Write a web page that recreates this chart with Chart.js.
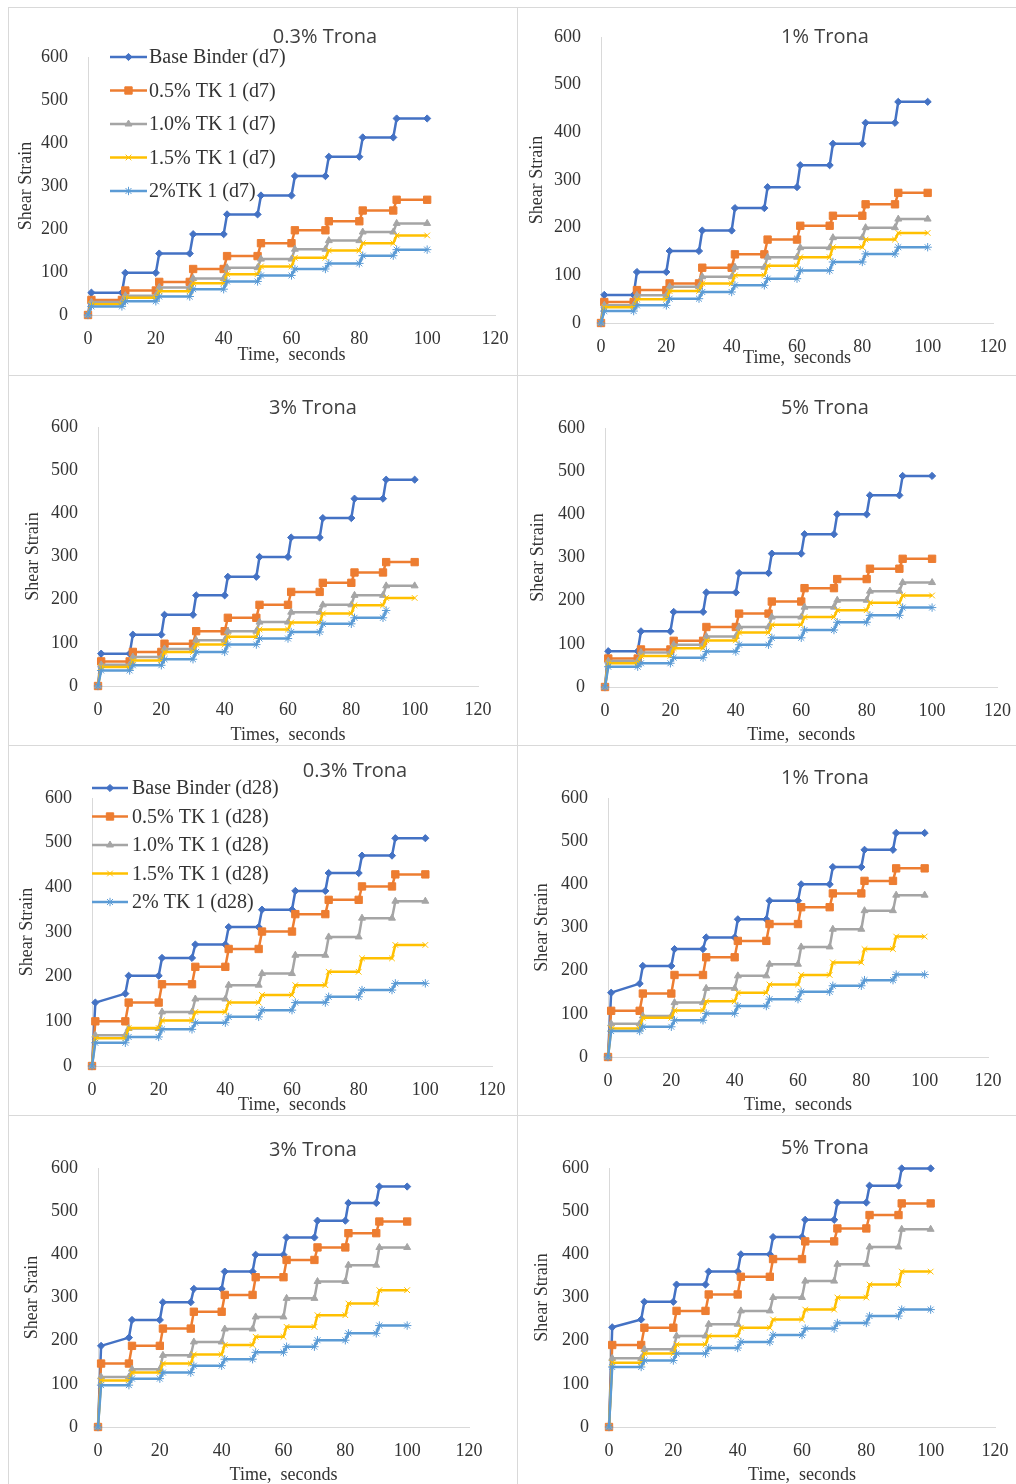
<!DOCTYPE html>
<html>
<head>
<meta charset="utf-8">
<title>Shear strain versus time, Trona-modified binders</title>
<script src="https://cdn.jsdelivr.net/npm/chart.js@4.4.1/dist/chart.umd.min.js"></script>
<style>
  html, body { margin: 0; padding: 0; background: #ffffff; }
  #fig { position: relative; width: 1016px; height: 1484px; overflow: hidden; background: #ffffff; }
  .rule { position: absolute; background: #d9d9d9; }
</style>
</head>
<body>
<div id="fig"></div>
<script>
// ---------- shared axes ----------
const TIME = [0, 1, 10, 11, 20, 21, 30, 31, 40, 41, 50, 51, 60, 61, 70, 71, 80, 81, 90, 91, 100];
const X_TICKS = [0, 20, 40, 60, 80, 100, 120];
const Y_TICKS = [0, 100, 200, 300, 400, 500, 600];

const LABELS_D7 = ['Base Binder (d7)', '0.5% TK 1 (d7)', '1.0% TK 1 (d7)', '1.5% TK 1 (d7)', '2%TK 1 (d7)'];
const LABELS_D28 = ['Base Binder (d28)', '0.5% TK 1 (d28)', '1.0% TK 1 (d28)', '1.5% TK 1 (d28)', '2% TK 1 (d28)'];

// ---------- 7-day aging ----------
// 0.3% Trona
const D7_03_BASE = [0, 52, 52, 98, 98, 143, 143, 188, 188, 234, 234, 278, 278, 323, 323, 368, 368, 413, 413, 457, 457];
const D7_03_TK05 = [0, 35, 35, 57, 57, 77, 77, 107, 107, 137, 137, 167, 167, 197, 197, 218, 218, 243, 243, 268, 268];
const D7_03_TK10 = [0, 30, 30, 45, 45, 64, 64, 85, 85, 110, 110, 130, 130, 153, 153, 173, 173, 193, 193, 213, 213];
const D7_03_TK15 = [0, 25, 25, 40, 40, 55, 55, 74, 74, 95, 95, 113, 113, 133, 133, 150, 150, 167, 167, 185, 185];
const D7_03_TK20 = [0, 20, 20, 32, 32, 43, 43, 60, 60, 78, 78, 92, 92, 107, 107, 120, 120, 138, 138, 152, 152];
// 1% Trona
const D7_1_BASE = [0, 59, 59, 107, 107, 151, 151, 194, 194, 241, 241, 285, 285, 331, 331, 376, 376, 420, 420, 464, 464];
const D7_1_TK05 = [0, 44, 44, 69, 69, 83, 83, 116, 116, 144, 144, 175, 175, 204, 204, 225, 225, 249, 249, 273, 273];
const D7_1_TK10 = [0, 37, 37, 58, 58, 76, 76, 97, 97, 117, 117, 138, 138, 158, 158, 179, 179, 200, 200, 218, 218];
const D7_1_TK15 = [0, 33, 33, 50, 50, 67, 67, 83, 83, 100, 100, 120, 120, 138, 138, 159, 159, 175, 175, 189, 189];
const D7_1_TK20 = [0, 25, 25, 37, 37, 51, 51, 65, 65, 79, 79, 93, 93, 110, 110, 128, 128, 145, 145, 159, 159];
// 3% Trona
const D7_3_BASE = [0, 75, 75, 119, 119, 165, 165, 210, 210, 253, 253, 299, 299, 344, 344, 389, 389, 434, 434, 478, 478];
const D7_3_TK05 = [0, 57, 57, 79, 79, 98, 98, 127, 127, 158, 158, 188, 188, 218, 218, 239, 239, 263, 263, 287, 287];
const D7_3_TK10 = [0, 49, 49, 67, 67, 86, 86, 106, 106, 127, 127, 148, 148, 171, 171, 188, 188, 210, 210, 232, 232];
const D7_3_TK15 = [0, 44, 44, 59, 59, 79, 79, 96, 96, 114, 114, 131, 131, 147, 147, 168, 168, 187, 187, 204, 204];
const D7_3_TK20 = [0, 36, 36, 48, 48, 62, 62, 79, 79, 96, 96, 110, 110, 125, 125, 144, 144, 158, 158, 175, null];
// 5% Trona
const D7_5_BASE = [0, 83, 83, 129, 129, 174, 174, 219, 219, 264, 264, 309, 309, 354, 354, 400, 400, 444, 444, 489, 489];
const D7_5_TK05 = [0, 66, 66, 87, 87, 107, 107, 139, 139, 170, 170, 198, 198, 229, 229, 250, 250, 274, 274, 297, 297];
const D7_5_TK10 = [0, 60, 60, 80, 80, 98, 98, 117, 117, 139, 139, 162, 162, 185, 185, 201, 201, 222, 222, 242, 242];
const D7_5_TK15 = [0, 55, 55, 72, 72, 90, 90, 108, 108, 126, 126, 144, 144, 162, 162, 178, 178, 195, 195, 212, 212];
const D7_5_TK20 = [0, 47, 47, 55, 55, 68, 68, 82, 82, 98, 98, 114, 114, 132, 132, 150, 150, 166, 166, 184, 184];

// ---------- 28-day aging ----------
// 0.3% Trona
const D28_03_BASE = [0, 142, 162, 202, 202, 242, 242, 272, 272, 311, 311, 350, 350, 392, 392, 432, 432, 471, 471, 510, 510];
const D28_03_TK05 = [0, 100, 100, 142, 142, 183, 183, 222, 222, 262, 262, 301, 301, 340, 340, 372, 372, 402, 402, 429, 429];
const D28_03_TK10 = [0, 69, 69, 84, 84, 121, 121, 150, 150, 181, 181, 207, 207, 248, 248, 289, 289, 331, 331, 369, 369];
const D28_03_TK15 = [0, 62, 62, 85, 85, 102, 102, 121, 121, 142, 142, 159, 159, 181, 181, 211, 211, 241, 241, 271, 271];
const D28_03_TK20 = [0, 52, 52, 65, 65, 82, 82, 97, 97, 110, 110, 125, 125, 142, 142, 155, 155, 170, 170, 185, 185];
// 1% Trona
const D28_1_BASE = [0, 149, 170, 211, 211, 250, 250, 277, 277, 319, 319, 362, 362, 400, 400, 440, 440, 480, 480, 519, 519];
const D28_1_TK05 = [0, 107, 107, 147, 147, 190, 190, 231, 231, 269, 269, 308, 308, 347, 347, 379, 379, 408, 408, 437, 437];
const D28_1_TK10 = [0, 77, 77, 95, 95, 126, 126, 159, 159, 188, 188, 215, 215, 255, 255, 296, 296, 339, 339, 375, 375];
const D28_1_TK15 = [0, 66, 66, 91, 91, 108, 108, 129, 129, 149, 149, 168, 168, 190, 190, 219, 219, 250, 250, 279, 279];
const D28_1_TK20 = [0, 60, 60, 70, 70, 85, 85, 101, 101, 118, 118, 134, 134, 151, 151, 165, 165, 178, 178, 191, 191];
// 3% Trona
const D28_3_BASE = [0, 188, 207, 248, 248, 289, 289, 320, 320, 360, 360, 399, 399, 439, 439, 478, 478, 519, 519, 557, 557];
const D28_3_TK05 = [0, 147, 147, 188, 188, 228, 228, 267, 267, 306, 306, 347, 347, 387, 387, 416, 416, 449, 449, 476, 476];
const D28_3_TK10 = [0, 116, 116, 134, 134, 166, 166, 197, 197, 227, 227, 255, 255, 298, 298, 337, 337, 375, 375, 416, 416];
const D28_3_TK15 = [0, 108, 108, 126, 126, 147, 147, 168, 168, 190, 190, 209, 209, 232, 232, 259, 259, 286, 286, 317, 317];
const D28_3_TK20 = [0, 97, 97, 112, 112, 126, 126, 142, 142, 157, 157, 173, 173, 186, 186, 201, 201, 217, 217, 235, 235];
// 5% Trona
const D28_5_BASE = [0, 231, 249, 290, 290, 330, 330, 360, 360, 400, 400, 440, 440, 480, 480, 520, 520, 559, 559, 599, 599];
const D28_5_TK05 = [0, 190, 190, 230, 230, 269, 269, 307, 307, 348, 348, 389, 389, 430, 430, 460, 460, 491, 491, 518, 518];
const D28_5_TK10 = [0, 159, 159, 180, 180, 211, 211, 238, 238, 269, 269, 300, 300, 338, 338, 377, 377, 417, 417, 458, 458];
const D28_5_TK15 = [0, 149, 149, 170, 170, 191, 191, 211, 211, 230, 230, 249, 249, 272, 272, 300, 300, 330, 330, 360, 360];
const D28_5_TK20 = [0, 139, 139, 154, 154, 170, 170, 183, 183, 197, 197, 213, 213, 228, 228, 241, 241, 257, 257, 272, 272];

// ---------- series styling (Excel-like palette and markers) ----------
const SERIES_STYLE = [
  { color: '#4472C4', pointStyle: 'rectRot',  radius: 3.6 },
  { color: '#ED7D31', pointStyle: 'rect',     radius: 5.2 },
  { color: '#A5A5A5', pointStyle: 'triangle', radius: 4.0 },
  { color: '#FFC000', pointStyle: 'crossRot', radius: 4.0 },
  { color: '#5B9BD5', pointStyle: 'star',     radius: 4.2 }
];

const SERIF = '"Liberation Serif", "Times New Roman", serif';
const TICK_FONT = { family: SERIF, size: 18 };
const AXIS_TITLE_FONT = { family: SERIF, size: 18, lineHeight: 1.2 };
const TEXT_COLOR = '#333333';
const AXIS_COLOR = '#d9d9d9';

// Title and in-plot legend, drawn on top of each chart
const panelText = {
  id: 'panelText',
  afterDraw(chart, args, opts) {
    const ctx = chart.ctx;
    ctx.save();
    ctx.font = '400 20px "Open Sans", "Noto Sans", sans-serif';
    ctx.fillStyle = '#404040';
    ctx.textAlign = 'center';
    ctx.textBaseline = 'middle';
    ctx.fillText(opts.title, opts.titleX, opts.titleY);

    const lg = opts.legend;
    if (lg) {
      ctx.font = '20px ' + SERIF;
      ctx.textAlign = 'left';
      chart.data.datasets.forEach((ds, i) => {
        const y = lg.y + i * lg.dy;
        ctx.strokeStyle = ds.borderColor;
        ctx.lineWidth = ds.borderWidth;
        ctx.beginPath();
        ctx.moveTo(lg.x, y);
        ctx.lineTo(lg.x + lg.len, y);
        ctx.stroke();
        ctx.fillStyle = ds.pointBackgroundColor;
        ctx.strokeStyle = ds.pointBorderColor;
        ctx.lineWidth = 1;
        if (Chart.helpers && Chart.helpers.drawPoint) {
          Chart.helpers.drawPoint(ctx, {
            pointStyle: ds.pointStyle, radius: ds.pointRadius, borderWidth: 1, rotation: 0
          }, lg.x + lg.len / 2, y);
        }
        ctx.fillStyle = TEXT_COLOR;
        ctx.fillText(ds.label, lg.textX, y + 1);
      });
    }
    ctx.restore();
  }
};

// Panel frames and plot geometry (pixels, relative to each panel)
const PANELS = [
  { x: 8,   y: 7,    w: 509, h: 368, left: 80, right: 487, top: 50, bottom: 308,
    title: '0.3% Trona', titleX: 317, titleY: 30, xTitle: 'Time,  seconds', xTitleY: 348,
    yTitle: 'Shear Strain', yTitleX: 18, labels: LABELS_D7,
    series: [D7_03_BASE, D7_03_TK05, D7_03_TK10, D7_03_TK15, D7_03_TK20],
    legend: { x: 102, len: 37, textX: 141, y: 50, dy: 33.5 } },
  { x: 517, y: 7,    w: 499, h: 368, left: 84, right: 476, top: 30, bottom: 316,
    title: '1% Trona', titleX: 308, titleY: 30, xTitle: 'Time,  seconds', xTitleY: 351,
    yTitle: 'Shear Strain', yTitleX: 20, labels: LABELS_D7,
    series: [D7_1_BASE, D7_1_TK05, D7_1_TK10, D7_1_TK15, D7_1_TK20] },
  { x: 8,   y: 375,  w: 509, h: 370, left: 90, right: 470, top: 52, bottom: 311,
    title: '3% Trona', titleX: 305, titleY: 33, xTitle: 'Times,  seconds', xTitleY: 360,
    yTitle: 'Shear Strain', yTitleX: 25, labels: LABELS_D7,
    series: [D7_3_BASE, D7_3_TK05, D7_3_TK10, D7_3_TK15, D7_3_TK20] },
  { x: 517, y: 375,  w: 499, h: 370, left: 88, right: 483, top: 53, bottom: 312,
    title: '5% Trona', titleX: 308, titleY: 33, xTitle: 'Time,  seconds', xTitleY: 360,
    yTitle: 'Shear Strain', yTitleX: 21, labels: LABELS_D7,
    series: [D7_5_BASE, D7_5_TK05, D7_5_TK10, D7_5_TK15, D7_5_TK20] },
  { x: 8,   y: 745,  w: 509, h: 370, left: 84, right: 484, top: 53, bottom: 321,
    title: '0.3% Trona', titleX: 347, titleY: 26, xTitle: 'Time,  seconds', xTitleY: 360,
    yTitle: 'Shear Strain', yTitleX: 19, labels: LABELS_D28,
    series: [D28_03_BASE, D28_03_TK05, D28_03_TK10, D28_03_TK15, D28_03_TK20],
    legend: { x: 84, len: 36, textX: 124, y: 43, dy: 28.5 } },
  { x: 517, y: 745,  w: 499, h: 370, left: 91, right: 471, top: 53, bottom: 312,
    title: '1% Trona', titleX: 308, titleY: 33, xTitle: 'Time,  seconds', xTitleY: 360,
    yTitle: 'Shear Strain', yTitleX: 25, labels: LABELS_D28,
    series: [D28_1_BASE, D28_1_TK05, D28_1_TK10, D28_1_TK15, D28_1_TK20] },
  { x: 8,   y: 1115, w: 509, h: 369, left: 90, right: 461, top: 53, bottom: 312,
    title: '3% Trona', titleX: 305, titleY: 35, xTitle: 'Time,  seconds', xTitleY: 360,
    yTitle: 'Shear Srain', yTitleX: 24, labels: LABELS_D28,
    series: [D28_3_BASE, D28_3_TK05, D28_3_TK10, D28_3_TK15, D28_3_TK20] },
  { x: 517, y: 1115, w: 499, h: 369, left: 92, right: 478, top: 53, bottom: 312,
    title: '5% Trona', titleX: 308, titleY: 33, xTitle: 'Time,  seconds', xTitleY: 360,
    yTitle: 'Shear Strain', yTitleX: 25, labels: LABELS_D28,
    series: [D28_5_BASE, D28_5_TK05, D28_5_TK10, D28_5_TK15, D28_5_TK20] }
];

const fig = document.getElementById('fig');

function makePanel(p) {
  const canvas = document.createElement('canvas');
  canvas.width = p.w;
  canvas.height = p.h;
  canvas.style.cssText = `position:absolute;left:${p.x}px;top:${p.y}px;width:${p.w}px;height:${p.h}px;`;
  fig.appendChild(canvas);

  const half = AXIS_TITLE_FONT.size * AXIS_TITLE_FONT.lineHeight / 2;
  const padLeft = p.yTitleX - half;
  const padBottom = p.h - (p.xTitleY + half);
  const yWidth = p.left - padLeft;
  const xHeight = p.h - padBottom - p.bottom;
  const n = p.series.length;

  const datasets = p.series.map((vals, i) => {
    const st = SERIES_STYLE[i];
    return {
      label: p.labels[i],
      data: TIME.map((t, k) => ({ x: t, y: vals[k] })),
      borderColor: st.color,
      backgroundColor: st.color,
      borderWidth: 2.5,
      pointStyle: st.pointStyle,
      pointRadius: st.radius,
      pointBackgroundColor: st.color,
      pointBorderColor: st.color,
      pointBorderWidth: 1,
      tension: 0,
      fill: false,
      clip: false,
      order: n - i
    };
  });

  new Chart(canvas, {
    type: 'line',
    data: { datasets },
    options: {
      responsive: false,
      animation: false,
      devicePixelRatio: 1,
      events: [],
      layout: { padding: { left: padLeft, right: p.w - p.right, top: p.top, bottom: padBottom } },
      plugins: {
        legend: { display: false },
        tooltip: { enabled: false },
        title: { display: false },
        panelText: { title: p.title, titleX: p.titleX, titleY: p.titleY, legend: p.legend || null }
      },
      scales: {
        x: {
          type: 'linear',
          min: X_TICKS[0],
          max: X_TICKS[X_TICKS.length - 1],
          afterBuildTicks(s) { s.ticks = X_TICKS.map(v => ({ value: v })); },
          ticks: { padding: 5, font: TICK_FONT, color: TEXT_COLOR, maxRotation: 0, autoSkip: false },
          grid: { display: false },
          border: { display: true, color: AXIS_COLOR, width: 1 },
          title: { display: true, text: p.xTitle, font: AXIS_TITLE_FONT, color: TEXT_COLOR, padding: 0 },
          afterFit(s) { s.height = xHeight; }
        },
        y: {
          type: 'linear',
          min: Y_TICKS[0],
          max: Y_TICKS[Y_TICKS.length - 1],
          afterBuildTicks(s) { s.ticks = Y_TICKS.map(v => ({ value: v })); },
          ticks: { padding: 12, font: TICK_FONT, color: TEXT_COLOR, autoSkip: false },
          grid: { display: false },
          border: { display: true, color: AXIS_COLOR, width: 1 },
          title: { display: true, text: p.yTitle, font: AXIS_TITLE_FONT, color: TEXT_COLOR, padding: 0 },
          afterFit(s) { s.width = yWidth; }
        }
      }
    },
    plugins: [panelText]
  });
}

PANELS.forEach(makePanel);

// Light frame lines separating the eight panels
function rule(x, y, w, h) {
  const d = document.createElement('div');
  d.className = 'rule';
  d.style.cssText = `left:${x}px;top:${y}px;width:${w}px;height:${h}px;`;
  fig.appendChild(d);
}
rule(8, 7, 1008, 1);
rule(8, 375, 1008, 1);
rule(8, 745, 1008, 1);
rule(8, 1115, 1008, 1);
rule(8, 7, 1, 1477);
rule(517, 7, 1, 1477);
</script>
</body>
</html>
